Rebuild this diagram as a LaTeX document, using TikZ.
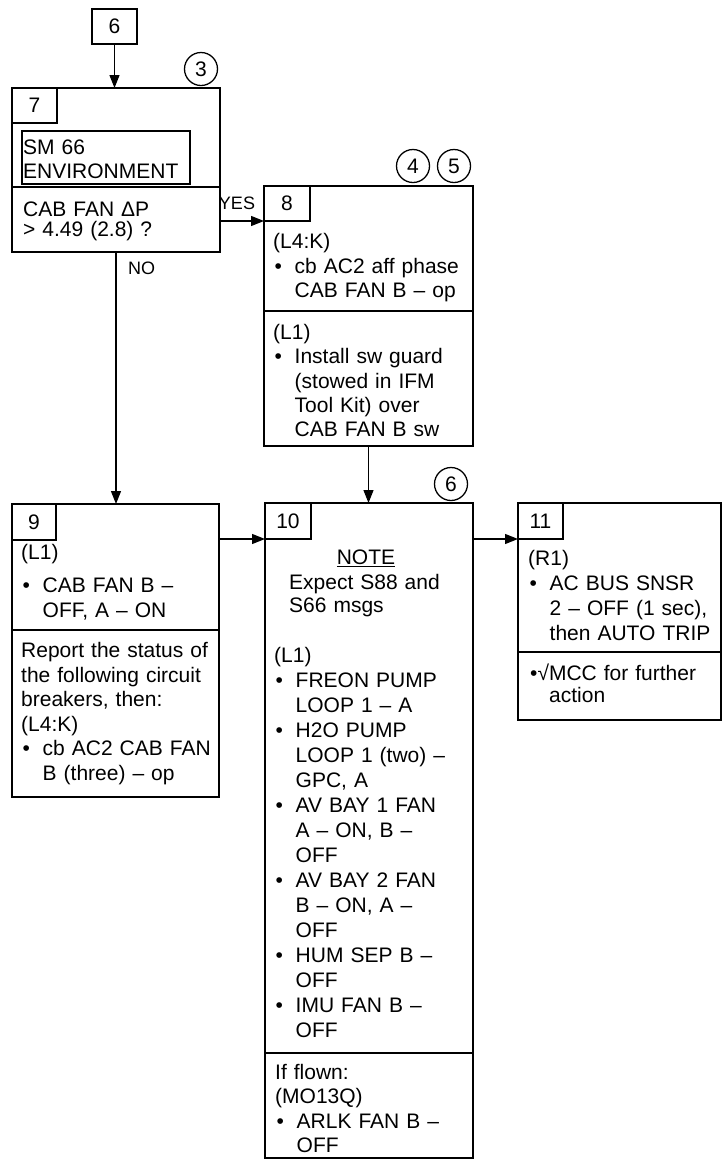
\documentclass[tikz,border=0pt]{standalone}
\usepackage{fontspec}
\setmainfont{Liberation Sans}
\usetikzlibrary{arrows.meta}
\newcommand\bulitem{\makebox[21.5pt][l]{\hspace{1.5pt}\textbullet}}
\newcommand\bulind{\hspace*{21.5pt}}
\begin{document}
\begin{tikzpicture}[x=1pt,y=-1pt,
  f21/.style={font=\fontsize{21}{25}\selectfont},
  box/.style={draw,line width=2pt,inner sep=0pt,outer sep=0pt,anchor=north west,f21},
  numbox/.style={draw,line width=1.3pt,inner sep=0pt,outer sep=0pt,anchor=north west,f21},
  txt/.style={anchor=base west,inner sep=0pt,text width=250pt,align=left},
  circ/.style={draw,circle,line width=1.3pt,minimum size=33pt,inner sep=0pt,f21},
  lbl/.style={inner sep=0pt,font=\fontsize{18}{20}\selectfont},
  divl/.style={line width=2pt},
  arr/.style={-{Triangle[length=13pt,width=10pt]},line width=1.3pt}]
\useasboundingbox (0,0) rectangle (723,1160);
% box 6
\node[box,minimum width=45pt,minimum height=35pt] (b6) at (92,9) {6};
% box 7
\node[box,minimum width=208pt,minimum height=164pt] (b7) at (12,88) {};
\node[numbox,minimum width=45pt,minimum height=35pt] (n7) at (12,88) {7};
\node[draw,line width=1.8pt,anchor=north west,minimum width=168pt,minimum height=53pt,inner sep=0pt] (env) at (21,130) {};
\node[txt,font=\fontsize{21}{23.5}\selectfont] (t7a) at (23,154.5) {SM 66\\ENVIRONMENT};
\draw[divl] (12,187) -- (220,187);
\node[txt,font=\fontsize{21}{20}\selectfont] (t7b) at (23,216) {CAB FAN ΔP\\> 4.49 (2.8) ?};
\node[circ] (c3) at (201,69) {3};
% box 8
\node[box,minimum width=209pt,minimum height=260pt] (b8) at (264,186) {};
\node[numbox,minimum width=46pt,minimum height=35pt] (n8) at (264,186) {8};
\node[txt,font=\fontsize{21}{24.5}\selectfont] (t8a) at (273,248.5) {(L4:K)\\\bulitem cb AC2 aff phase\\\bulind CAB FAN B – op};
\draw[divl] (264,311) -- (473,311);
\node[txt,font=\fontsize{21}{24.3}\selectfont] (t8b) at (273,339.5) {(L1)\\\bulitem Install sw guard\\\bulind (stowed in IFM\\\bulind Tool Kit) over\\\bulind CAB FAN B sw};
\node[circ] (c4) at (413,166) {4};
\node[circ] (c5) at (454,166) {5};
% box 9
\node[box,minimum width=207pt,minimum height=293pt] (b9) at (12,504) {};
\node[numbox,minimum width=44pt,minimum height=36pt] (n9) at (12,504) {9};
\node[txt,font=\fontsize{21}{25}\selectfont] (t9a) at (21,559.5) {(L1)\\[8pt]\bulitem CAB FAN B –\\\bulind OFF, A – ON};
\draw[divl] (12,630) -- (219,630);
\node[txt,font=\fontsize{21}{24.6}\selectfont] (t9b) at (21,657.5) {Report the status of\\the following circuit\\breakers, then:\\(L4:K)\\\bulitem cb AC2 CAB FAN\\\bulind B (three) – op};
% box 10
\node[box,minimum width=208pt,minimum height=655pt] (b10) at (265,503) {};
\node[numbox,minimum width=46pt,minimum height=36pt] (n10) at (265,503) {10};
\node[anchor=base,inner sep=0pt,f21] (note) at (366,564.5) {\underline{NOTE}};
\node[txt,font=\fontsize{21}{23}\selectfont] (t10a) at (289,589.5) {Expect S88 and\\S66 msgs};
\node[txt,font=\fontsize{21}{25}\selectfont] (t10b) at (274,662.5) {(L1)\\\bulitem FREON PUMP\\\bulind LOOP 1 – A\\\bulitem H2O PUMP\\\bulind LOOP 1 (two) –\\\bulind GPC, A\\\bulitem AV BAY 1 FAN\\\bulind A – ON, B –\\\bulind OFF\\\bulitem AV BAY 2 FAN\\\bulind B – ON, A –\\\bulind OFF\\\bulitem HUM SEP B –\\\bulind OFF\\\bulitem IMU FAN B –\\\bulind OFF};
\draw[divl] (265,1053) -- (473,1053);
\node[txt,font=\fontsize{21}{24.3}\selectfont] (t10c) at (275,1079.5) {If flown:\\(MO13Q)\\\bulitem ARLK FAN B –\\\bulind OFF};
\node[circ] (c6) at (451,484) {6};
% box 11
\node[box,minimum width=203pt,minimum height=217pt] (b11) at (518,503) {};
\node[numbox,minimum width=45pt,minimum height=36pt] (n11) at (518,503) {11};
\node[txt,font=\fontsize{21}{25}\selectfont] (t11a) at (528,565.5) {(R1)\\\bulitem AC BUS SNSR\\\bulind 2 – OFF (1 sec),\\\bulind then AUTO TRIP};
\draw[divl] (518,652) -- (721,652);
\node[txt,font=\fontsize{21}{22}\selectfont] (t11b) at (530,680.5) {•√MCC for further\\\hspace*{19pt}action};
% labels
\node[lbl,anchor=base] (yes) at (237,209) {YES};
\node[lbl,anchor=base west] (no) at (128,274) {NO};
% connectors
\draw[arr] (b6.south) -- (b6.south |- b7.north);
\draw[arr] (b7.east |- n8.south west) -- (n8.south west);
\draw[arr] (b7.south) -- (b7.south |- b9.north);
\draw[arr] (b8.south) -- (b8.south |- b10.north);
\draw[arr] (b9.east |- n10.south west) -- (n10.south west);
\draw[arr] (b10.east |- n11.south west) -- (n11.south west);
\end{tikzpicture}
\end{document}
